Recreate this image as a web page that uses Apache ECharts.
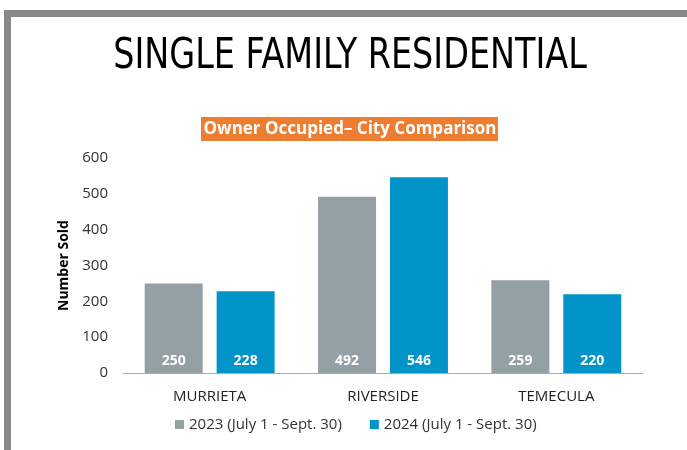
<!DOCTYPE html>
<html><head><meta charset="utf-8">
<script src="https://cdn.jsdelivr.net/npm/echarts@6/dist/echarts.min.js"></script>
<style>html,body{margin:0;padding:0;background:#fff}#c{width:687px;height:450px}</style>
</head><body><div id="c"></div>
<script>
const categories = ['MURRIETA', 'RIVERSIDE', 'TEMECULA'];
const series2023 = [250, 492, 259];
const series2024 = [228, 546, 220];
const seriesNames = ['2023 (July 1 - Sept. 30)', '2024 (July 1 - Sept. 30)'];
const yTicks = { min: 0, max: 600, interval: 100 };

const chart = echarts.init(document.getElementById('c'));
const labelStyle = { show: true, position: 'insideBottom', distance: 5, color: '#fff', fontWeight: 'bold', fontSize: 14, fontFamily: 'Open Sans' };
chart.setOption({
  animation: false,
  textStyle: { fontFamily: 'Open Sans' },
  graphic: [
    { type: 'rect', shape: { x: 4, y: 10, width: 683, height: 7 }, style: { fill: '#888888' } },
    { type: 'rect', shape: { x: 4, y: 10, width: 7, height: 440 }, style: { fill: '#888888' } },
    { type: 'text', x: 350, y: 57, scaleX: 0.885, style: { text: 'SINGLE FAMILY RESIDENTIAL', font: '42px "Liberation Sans Narrow", "DejaVu Sans Condensed", sans-serif', fill: '#000', align: 'center', verticalAlign: 'middle' } },
    { type: 'rect', shape: { x: 201, y: 117, width: 297, height: 24 }, style: { fill: '#ED7D31' } },
    { type: 'text', x: 350, y: 129, style: { text: 'Owner Occupied\u2013 City Comparison', font: 'bold 17px "Open Sans"', fill: '#fff', align: 'center', verticalAlign: 'middle' } }
  ],
  grid: { left: 123, right: 44, top: 158, bottom: 77 },
  legend: {
    data: seriesNames, bottom: 13, left: 170, itemWidth: 9, itemHeight: 9, itemGap: 28,
    icon: 'rect', textStyle: { fontSize: 15, color: '#333', fontFamily: 'Open Sans' }
  },
  xAxis: {
    type: 'category', data: categories,
    axisLine: { lineStyle: { color: '#aaa' } }, axisTick: { show: false },
    axisLabel: { fontSize: 15, color: '#222', margin: 16, fontFamily: 'Open Sans' }
  },
  yAxis: {
    type: 'value', min: yTicks.min, max: yTicks.max, interval: yTicks.interval,
    name: 'Number Sold', nameLocation: 'middle', nameGap: 44, nameRotate: 90,
    nameTextStyle: { fontWeight: 'bold', fontSize: 14, color: '#000', fontFamily: 'Open Sans' },
    splitLine: { show: false }, axisLine: { show: false }, axisTick: { show: false },
    axisLabel: { fontSize: 15, color: '#333', margin: 15, fontFamily: 'Open Sans' }
  },
  series: [
    { name: seriesNames[0], type: 'bar', data: series2023, barWidth: 58, barGap: '24%', itemStyle: { color: '#959FA6' }, label: labelStyle },
    { name: seriesNames[1], type: 'bar', data: series2024, barWidth: 58, itemStyle: { color: '#0094C8' }, label: labelStyle }
  ]
});
</script></body></html>
